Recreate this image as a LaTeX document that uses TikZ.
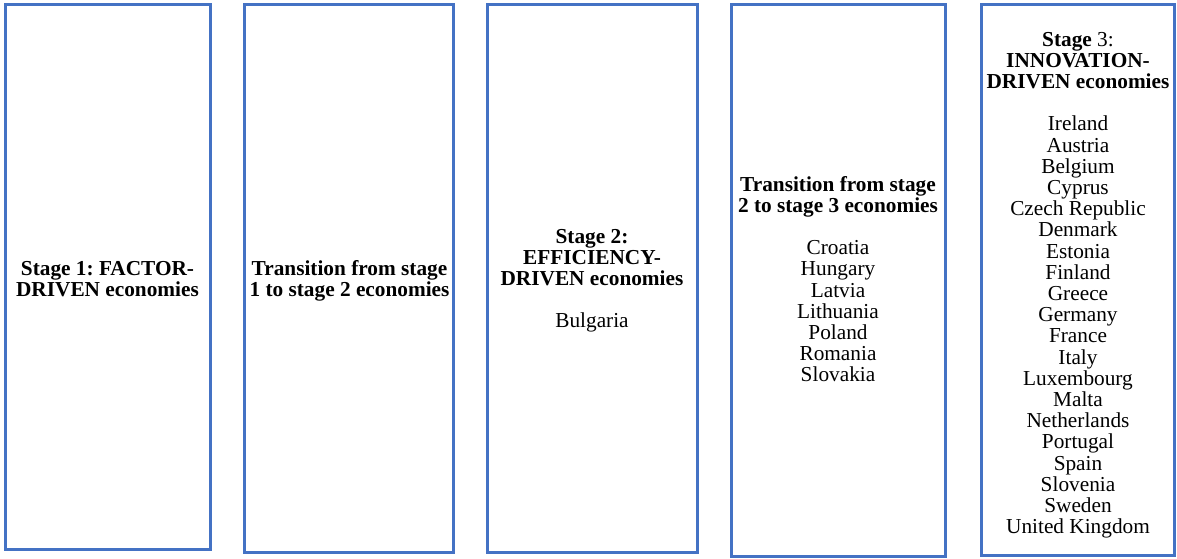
\documentclass[tikz,border=0pt]{standalone}
\usepackage{fontspec}
\setmainfont{Liberation Serif}
\frenchspacing
\definecolor{frameblue}{HTML}{4472C4}
\tikzset{
  stagebox/.style={draw=frameblue, line width=3pt, inner sep=0pt, outer sep=0pt,
    rectangle},
  stagetext/.style={anchor=base, inner sep=0pt, outer sep=0pt,
    font=\fontsize{21.3}{21.2}\selectfont}
}
% column of centred lines whose reference point is the first baseline
\newcommand{\stagecol}[1]{\renewcommand{\arraystretch}{1}\setlength{\tabcolsep}{0pt}\begin{tabular}[t]{c}#1\end{tabular}}
\begin{document}
\begin{tikzpicture}[x=1pt, y=-1pt]
  \useasboundingbox (0,0) rectangle (1177,558);

  % five stage frames
  \node[stagebox, minimum width=204.5pt, minimum height=545pt] (f1) at (107.75,277) {};
  \node[stagebox, minimum width=209pt, minimum height=548pt] (f2) at (349,278.5) {};
  \node[stagebox, minimum width=209.5pt, minimum height=548pt] (f3) at (592.25,278.5) {};
  \node[stagebox, minimum width=213.5pt, minimum height=551.5pt] (f4) at (838.25,280.25) {};
  \node[stagebox, minimum width=193pt, minimum height=550.5pt] (f5) at (1078,279.75) {};

  \node[stagetext] (t1) at (107.5,275) {\stagecol{\textbf{Stage 1: FACTOR-}\\ \textbf{DRIVEN economies}}};

  \node[stagetext] (t2) at (349.5,275) {\stagecol{\textbf{Transition from stage}\\ \textbf{1 to stage 2 economies}}};

  \node[stagetext] (t3) at (592,243) {\stagecol{\textbf{Stage 2:}\\ \textbf{EFFICIENCY-}\\ \textbf{DRIVEN economies}\\ \\ Bulgaria}};

  \node[stagetext] (t4) at (838,191) {\stagecol{\textbf{Transition from stage}\\ \textbf{2 to stage 3 economies}\\ \\ Croatia\\ Hungary\\ Latvia\\ Lithuania\\ Poland\\ Romania\\ Slovakia}};

  \node[stagetext] (t5) at (1078,46) {\stagecol{\textbf{Stage} 3:\\ \textbf{INNOVATION-}\\ \textbf{DRIVEN economies}\\ \\ Ireland\\ Austria\\ Belgium\\ Cyprus\\ Czech Republic\\ Denmark\\ Estonia\\ Finland\\ Greece\\ Germany\\ France\\ Italy\\ Luxembourg\\ Malta\\ Netherlands\\ Portugal\\ Spain\\ Slovenia\\ Sweden\\ United Kingdom}};
\end{tikzpicture}
\end{document}
